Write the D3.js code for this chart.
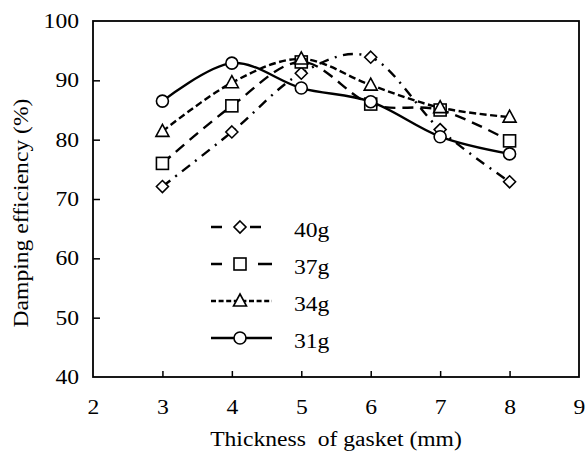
<!DOCTYPE html>
<html><head><meta charset="utf-8">
<script src="https://cdn.jsdelivr.net/npm/d3@7"></script>
<style>body{margin:0;background:#fff}svg{display:block}text{font-family:"Liberation Serif","Times New Roman",serif;fill:#000}</style>
</head><body><svg id="c" width="585" height="454"></svg>
<script>
const thickness = [3, 4, 5, 6, 7, 8];
const s40g = [72.1, 81.3, 91.2, 93.9, 81.7, 72.9];
const s37g = [76.0, 85.7, 93.1, 86.0, 85.0, 79.8];
const s34g = [81.4, 89.6, 93.6, 89.2, 85.4, 83.8];
const s31g = [86.5, 92.9, 88.7, 86.4, 80.5, 77.6];
const seriesNames = ["40g", "37g", "34g", "31g"];
const xTicks = [2, 3, 4, 5, 6, 7, 8, 9];
const yTicks = [40, 50, 60, 70, 80, 90, 100];

const series = [
  {name: seriesNames[0], values: s40g, marker: "diamond", dash: "10,6.5,2,6.5", legDash: "11,28,11", legEnd: 261},
  {name: seriesNames[1], values: s37g, marker: "square", dash: "11,7", legDash: "11,36,14", legEnd: 272},
  {name: seriesNames[2], values: s34g, marker: "triangle", dash: "7,3.5", legDash: "5,2.6", legEnd: 272},
  {name: seriesNames[3], values: s31g, marker: "circle", dash: null, legDash: null, legEnd: 272}
];

const STRETCH = 1.18;
function stretch(sel) {
  sel.each(function () {
    const w = this.getComputedTextLength();
    d3.select(this).attr("textLength", w * STRETCH).attr("lengthAdjust", "spacingAndGlyphs");
  });
}

const svg = d3.select("#c");
const L = 93, R = 579, T = 21, B = 377;
const x = d3.scaleLinear().domain([2, 9]).range([L, R]);
const y = d3.scaleLinear().domain([40, 100]).range([B, T]);

// frame
svg.append("rect").attr("x", L).attr("y", T).attr("width", R - L).attr("height", B - T)
  .attr("fill", "none").attr("stroke", "#000").attr("stroke-width", 1.8);

// axes
const xAxis = d3.axisBottom(x).tickValues(xTicks).tickSize(-6).tickFormat(d3.format("d"));
const gx = svg.append("g").attr("transform", `translate(0,${B})`).call(xAxis);
gx.select(".domain").remove();
gx.selectAll(".tick line").attr("stroke", "#000").attr("stroke-width", 1.5)
  .filter(d => d === 2 || d === 9).remove();
gx.selectAll(".tick text").attr("font-size", 20).attr("font-family", "Liberation Serif")
  .attr("dy", 0).attr("y", 37).call(stretch);

const yAxis = d3.axisLeft(y).tickValues(yTicks).tickSize(-7).tickPadding(14).tickFormat(d3.format("d"));
const gy = svg.append("g").attr("transform", `translate(${L},0)`).call(yAxis);
gy.select(".domain").remove();
gy.selectAll(".tick line").attr("stroke", "#000").attr("stroke-width", 1.5)
  .filter(d => d === 40 || d === 100).remove();
gy.selectAll(".tick text").attr("font-size", 20).attr("font-family", "Liberation Serif").call(stretch);

svg.append("text").attr("x", (L + R) / 2).attr("y", 446).attr("text-anchor", "middle")
  .attr("xml:space", "preserve").style("white-space", "pre")
  .attr("font-size", 20).text("Thickness  of gasket (mm)").call(stretch);
svg.append("text").attr("transform", "translate(28,213) rotate(-90)").attr("text-anchor", "middle")
  .attr("font-size", 20).text("Damping efficiency (%)").call(stretch);

const line = d3.line().x((d, i) => x(thickness[i])).y(d => y(d)).curve(d3.curveCatmullRom.alpha(0));

function marker(g, type, cx, cy) {
  const st = {fill: "#fff", stroke: "#000", "stroke-width": 1.6};
  let el;
  if (type === "circle") el = g.append("circle").attr("cx", cx).attr("cy", cy).attr("r", 6);
  else if (type === "square") el = g.append("rect").attr("x", cx - 6).attr("y", cy - 6).attr("width", 12).attr("height", 12);
  else if (type === "triangle") el = g.append("path").attr("d", `M${cx},${cy - 7}L${cx + 6.5},${cy + 5}L${cx - 6.5},${cy + 5}Z`);
  else el = g.append("path").attr("d", `M${cx},${cy - 6}L${cx + 6},${cy}L${cx},${cy + 6}L${cx - 6},${cy}Z`);
  Object.entries(st).forEach(([k, v]) => el.attr(k, v));
}

series.forEach(s => {
  const g = svg.append("g");
  g.append("path").datum(s.values).attr("d", line).attr("fill", "none").attr("stroke", "#000")
    .attr("stroke-width", 2.4).attr("stroke-dasharray", s.dash);
  s.values.forEach((v, i) => marker(g, s.marker, x(thickness[i]), y(v)));
});

// legend
const legY = [227, 264, 301, 338];
series.forEach((s, i) => {
  const g = svg.append("g");
  g.append("line").attr("x1", 211).attr("x2", s.legEnd).attr("y1", legY[i]).attr("y2", legY[i])
    .attr("stroke", "#000").attr("stroke-width", 2.4).attr("stroke-dasharray", s.legDash);
  marker(g, s.marker, 240, legY[i]);
  g.append("text").attr("x", 294).attr("y", legY[i] + 9.5).attr("font-size", 20).text(s.name).call(stretch);
});
</script></body></html>
